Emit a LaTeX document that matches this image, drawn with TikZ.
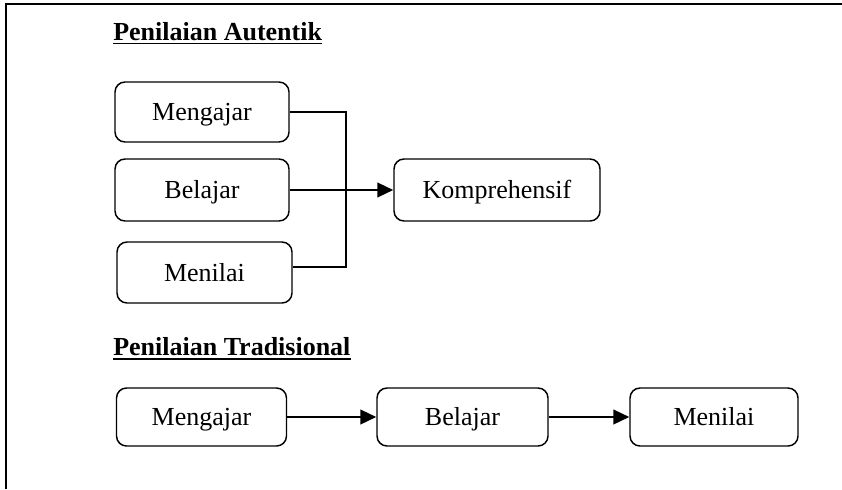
\documentclass[tikz,border=0pt]{standalone}
\usepackage{fontspec}
\setmainfont{Liberation Serif}
\usetikzlibrary{arrows.meta}
\begin{document}
\begin{tikzpicture}[x=0.75pt,y=-0.75pt,
  every node/.style={font=\fontsize{19.5}{23}\selectfont},
  box/.style={draw, rounded corners=7.5pt, line width=1.1pt, inner sep=0pt, text height=12.9pt, text depth=0pt},
  title/.style={anchor=base west, inner sep=0pt, font=\fontsize{19.5}{23}\selectfont\bfseries},
  uline/.style={line width=1.2pt},
  thinline/.style={line width=0.9pt},
  arr/.style={line width=1.7pt, -{Triangle[length=12pt,width=11pt]}},
  frame/.style={line width=1.5pt}]
\useasboundingbox (0,0) rectangle (842,489);
\draw[frame] (6,489) -- (6,4.3) -- (842,4.3);

% upper section
\node[title] (t1) at (113,40) {Penilaian Autentik};
\draw[uline] ([yshift=-2.6pt]t1.base west) -- ([yshift=-2.6pt]t1.base east);

\node[box, minimum width=130.5pt, minimum height=45pt] (m1) at (202,112) {Mengajar};
\node[box, minimum width=130.5pt, minimum height=46.5pt] (b1) at (202,190) {Belajar};
\node[box, minimum width=131.25pt, minimum height=45.75pt] (n1) at (204.5,272.5) {Menilai};
\node[box, minimum width=154.5pt, minimum height=46.5pt] (k) at (497,190) {Komprehensif};

\coordinate (j) at (346,190);
\draw[thinline] (m1.east) -| (j);
\draw[thinline] ([yshift=4.1pt]n1.east) -| (j);
\draw[arr] (b1.east) -- (k.west);

% lower section
\node[title] (t2) at (113,355) {Penilaian Tradisional};
\draw[uline] ([yshift=-2.8pt]t2.base west) -- ([yshift=-2.8pt]t2.base east);

\node[box, minimum width=127.5pt, minimum height=43.5pt] (m2) at (201.5,417) {Mengajar};
\node[box, minimum width=128.25pt, minimum height=43.5pt] (b2) at (462.5,417) {Belajar};
\node[box, minimum width=126pt, minimum height=43.5pt] (n2) at (714,417) {Menilai};

\draw[arr] (m2.east) -- (b2.west);
\draw[arr] (b2.east) -- (n2.west);
\end{tikzpicture}
\end{document}
